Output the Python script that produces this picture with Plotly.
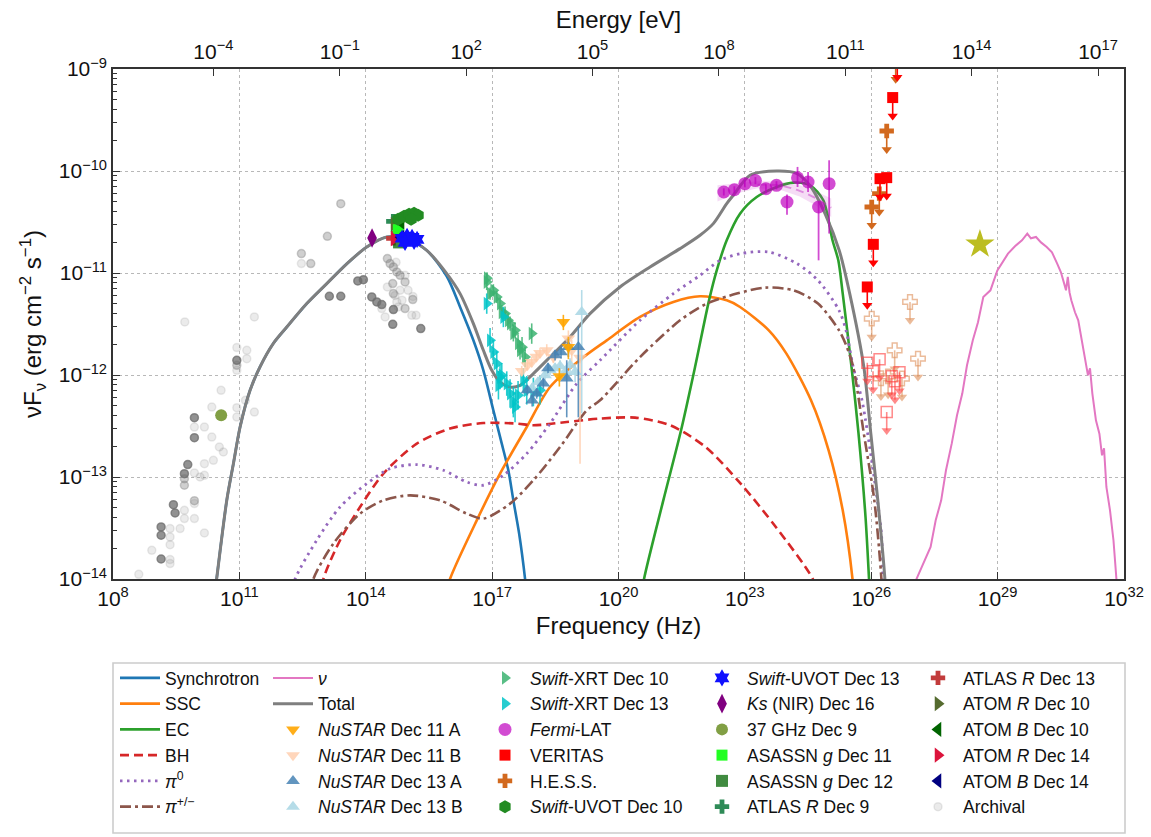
import numpy as np
import plotly.graph_objects as go

# ------------------------------------------------------------------
# DATA (log10 frequency [Hz], log10 nuFnu [erg cm^-2 s^-1])
# ------------------------------------------------------------------
LOG_H_EV_S = np.log10(4.135667696e-15)   # Planck constant in eV s

X_TICK_EXP = [8, 11, 14, 17, 20, 23, 26, 29, 32]
E_TICK_EXP = [-4, -1, 2, 5, 8, 11, 14, 17]
Y_TICK_EXP = [-14, -13, -12, -11, -10, -9]

# ---- model curves ----
SYNC_LOGNU = [10.40, 10.46, 10.70, 10.858, 11.017, 11.254, 11.49, 11.807, 12.125, 12.60,
              13.075, 13.55, 14.024, 14.50, 14.974, 15.448, 15.923, 16.239, 16.555, 16.792,
              17.029, 17.229, 17.385, 17.504, 17.64, 17.782, 17.83]
SYNC_LOGF = [-14.2, -14.0, -13.23, -12.87, -12.51, -12.15, -11.92, -11.69, -11.53, -11.30,
             -11.104, -10.91, -10.745, -10.647, -10.663, -10.778, -11.032, -11.333, -11.66, -11.954,
             -12.346, -12.673, -12.934, -13.229, -13.552, -14.0, -14.21]

SSC_LOGNU = [15.88, 16.0, 16.635, 17.188, 17.822, 18.375, 19.166, 19.721, 20.511, 21.302,
             21.936, 22.569, 22.885, 23.568, 23.986, 24.57, 24.988, 25.323, 25.555, 25.59]
SSC_LOGF = [-14.2, -14.0, -13.425, -12.967, -12.51, -12.118, -11.826, -11.66, -11.431, -11.284,
            -11.228, -11.268, -11.333, -11.562, -11.79, -12.248, -12.738, -13.326, -14.0, -14.2]

EC_LOGNU = [20.535, 20.606, 21.064, 21.485, 21.817, 22.149, 22.332, 22.569, 22.885, 23.281,
            23.756, 24.15, 24.547, 24.862, 25.08, 25.218, 25.323, 25.532, 25.698, 25.864,
            25.947, 25.97]
EC_LOGF = [-14.2, -14.0, -13.229, -12.542, -11.922, -11.268, -10.974, -10.679, -10.418, -10.255,
           -10.157, -10.114, -10.14, -10.287, -10.679, -10.876, -11.202, -11.922, -12.575, -13.392,
           -14.0, -14.2]

BH_LOGNU = [12.916, 12.994, 13.39, 13.865, 14.418, 15.211, 16.0, 16.792, 17.585, 17.979,
            18.771, 19.562, 20.393, 21.23, 22.066, 22.90, 23.735, 24.613, 24.78]
BH_LOGF = [-14.21, -14.0, -13.62, -13.294, -12.967, -12.673, -12.525, -12.471, -12.476, -12.493,
           -12.461, -12.427, -12.418, -12.493, -12.706, -13.065, -13.49, -14.0, -14.21]

PI0_LOGNU = [12.204, 12.322, 12.837, 13.39, 14.024, 14.577, 15.211, 15.842, 16.398, 16.792,
             17.267, 17.822, 18.375, 19.009, 19.562, 20.511, 21.302, 21.936, 22.411, 22.90,
             23.568, 24.238, 24.736, 25.235, 25.401, 25.572, 25.781, 26.032, 26.241, 26.279, 26.29]
PI0_LOGF = [-14.21, -14.0, -13.62, -13.294, -13.065, -12.918, -12.878, -12.934, -13.049, -13.081,
            -12.983, -12.771, -12.476, -12.084, -11.856, -11.464, -11.202, -11.023, -10.876, -10.81,
            -10.794, -10.908, -11.072, -11.366, -11.562, -11.922, -12.248, -12.902, -13.555, -14.0, -14.2]

PIPM_LOGNU = [12.678, 12.757, 13.231, 13.865, 14.418, 15.052, 15.764, 16.398, 16.792, 17.426,
              17.979, 18.613, 19.246, 19.562, 20.511, 21.461, 22.094, 22.806, 23.485, 24.152,
              24.736, 25.235, 25.405, 25.572, 25.824, 26.073, 26.241, 26.255]
PIPM_LOGF = [-14.21, -14.0, -13.653, -13.359, -13.229, -13.18, -13.229, -13.359, -13.408, -13.261,
             -13.032, -12.706, -12.346, -12.248, -11.824, -11.464, -11.30, -11.202, -11.143, -11.17,
             -11.30, -11.562, -11.709, -11.922, -12.575, -13.229, -14.0, -14.2]

NU_LOGNU = [27.04, 27.074, 27.409, 27.53, 27.66, 27.774, 27.91, 28.036, 28.161, 28.273,
            28.411, 28.534, 28.66, 28.829, 28.994, 29.246, 29.412, 29.578, 29.704, 29.79,
            29.911, 30.03, 30.165, 30.29, 30.414, 30.503, 30.58, 30.623, 30.666, 30.707,
            30.749, 30.836, 30.914, 30.998, 31.074, 31.145, 31.193, 31.249, 31.334, 31.416,
            31.478, 31.526, 31.582, 31.668, 31.75, 31.833, 31.857]
NU_LOGF = [-14.2, -14.0, -13.686, -13.425, -13.229, -12.934, -12.673, -12.395, -12.182, -11.905,
           -11.66, -11.483, -11.235, -11.17, -10.974, -10.81, -10.738, -10.679, -10.614, -10.66,
           -10.647, -10.70, -10.745, -10.797, -10.908, -10.993, -11.104, -11.17, -11.039, -11.19,
           -11.268, -11.385, -11.464, -11.66, -11.807, -12.003, -11.934, -12.182, -12.444, -12.575,
           -12.787, -12.718, -13.098, -13.327, -13.62, -14.0, -14.2]

TOTAL_LOGNU = [10.40, 10.46, 10.70, 10.858, 11.017, 11.254, 11.49, 11.807, 12.125, 12.60,
               13.075, 13.55, 14.024, 14.50, 14.974, 15.448, 15.923, 16.239, 16.555, 16.792,
               16.991, 17.188, 17.426, 17.663, 17.979, 18.375, 18.85, 19.324, 20.036, 20.749,
               21.461, 21.936, 22.251, 22.569, 22.726, 23.122, 23.756, 24.238, 24.57, 24.903,
               25.24, 25.489, 25.824, 25.99, 26.156, 26.324, 26.35]
TOTAL_LOGF = [-14.2, -14.0, -13.23, -12.87, -12.51, -12.15, -11.92, -11.69, -11.53, -11.30,
              -11.104, -10.91, -10.745, -10.647, -10.663, -10.778, -11.006, -11.202, -11.496, -11.758,
              -11.954, -12.069, -12.118, -12.101, -11.986, -11.824, -11.627, -11.398, -11.137, -10.941,
              -10.761, -10.63, -10.516, -10.32, -10.238, -10.042, -10.0, -10.025, -10.157, -10.418,
              -10.778, -11.202, -11.922, -12.575, -13.229, -14.0, -14.2]

# ---- X-ray ----
NUSTAR11A_LOGNU = [18.596, 18.691, 18.81]
NUSTAR11A_LOGF = [-12.013, -11.48, -11.725]
NUSTAR11A_EHI = [0.08, 0.07, 0.1]
NUSTAR11A_ELO = [0.1, 0.08, 0.12]

NUSTAR11B_LOGNU = [17.703, 17.836, 17.94, 18.05, 18.137, 18.297, 18.453, 18.81, 18.89, 19.087]
NUSTAR11B_LOGF = [-11.961, -11.905, -11.873, -11.82, -11.784, -11.758, -11.824, -11.643, -11.758, -11.83]
NUSTAR11B_EHI = [0.05, 0.05, 0.05, 0.05, 0.05, 0.06, 0.06, 0.08, 0.1, 0.11]
NUSTAR11B_ELO = [0.05, 0.05, 0.05, 0.05, 0.05, 0.06, 0.06, 0.08, 0.12, 1.04]

NUSTAR13A_LOGNU = [17.836, 17.95, 18.059, 18.216, 18.327, 18.494, 18.636, 18.771, 18.81, 19.046]
NUSTAR13A_LOGF = [-12.15, -12.25, -12.182, -12.084, -11.934, -11.807, -11.778, -12.035, -11.725, -11.725]
NUSTAR13A_EHI = [0.05, 0.05, 0.05, 0.05, 0.05, 0.05, 0.05, 0.18, 0.08, 0.2]
NUSTAR13A_ELO = [0.05, 0.06, 0.05, 0.05, 0.05, 0.05, 0.06, 0.38, 0.1, 0.69]

NUSTAR13B_LOGNU = [17.95, 18.09, 18.256, 18.375, 18.494, 18.613, 18.73, 18.85, 18.97, 19.127]
NUSTAR13B_LOGF = [-12.13, -12.072, -12.003, -11.954, -11.934, -11.915, -11.974, -11.905, -11.97, -11.382]
NUSTAR13B_EHI = [0.05, 0.05, 0.05, 0.05, 0.05, 0.06, 0.06, 0.07, 0.08, 0.215]
NUSTAR13B_ELO = [0.05, 0.05, 0.05, 0.05, 0.05, 0.06, 0.06, 0.07, 0.1, 0.994]

XRT10_LOGNU = [16.872, 16.878, 16.951, 17.029, 17.11, 17.188, 17.229, 17.307, 17.378, 17.426,
               17.504, 17.544, 17.616, 17.663, 17.71, 17.782, 17.94]
XRT10_LOGF = [-11.088, -11.052, -11.202, -11.17, -11.235, -11.30, -11.385, -11.398, -11.464, -11.496,
              -11.591, -11.562, -11.69, -11.758, -11.728, -11.824, -11.594]
XRT10_ERR = [0.08, 0.06, 0.06, 0.06, 0.06, 0.06, 0.07, 0.07, 0.07, 0.07, 0.08, 0.08, 0.09, 0.09, 0.1, 0.1, 0.1]

XRT13_LOGNU = [16.872, 16.951, 17.029, 17.11, 17.15, 17.188, 17.229, 17.267, 17.347, 17.426,
               17.504, 17.544, 17.616, 17.741, 17.822, 17.979, 18.137]
XRT13_LOGF = [-11.30, -11.66, -11.775, -11.888, -12.10, -12.02, -12.003, -11.431, -12.084, -12.182,
              -12.265, -12.314, -12.199, -12.052, -12.15, -12.167, -12.15]
XRT13_ERR = [0.1, 0.12, 0.12, 0.12, 0.14, 0.12, 0.12, 0.1, 0.12, 0.14, 0.15, 0.15, 0.14, 0.12, 0.14, 0.14, 0.14]

# ---- gamma rays ----
FERMI_LOGNU = [22.5, 22.75, 23.0, 23.25, 23.5, 23.75, 24.0, 24.25, 24.5, 24.75, 25.0]
FERMI_LOGF = [-10.206, -10.184, -10.124, -10.094, -10.173, -10.14, -10.304, -10.067, -10.108, -10.353, -10.124]
FERMI_LOGF_HI = [-10.17, -10.15, -10.09, -10.06, -10.13, -10.10, -10.23, -9.96, -10.01, -10.30, -9.895]
FERMI_LOGF_LO = [-10.24, -10.22, -10.16, -10.13, -10.22, -10.18, -10.43, -10.157, -10.206, -10.876, -10.613]

FERMI_BAND_LOGNU = [22.35, 22.8, 23.3, 23.8, 24.3, 24.7, 25.05]
FERMI_BAND_HI = [-10.14, -10.12, -10.10, -10.10, -10.14, -10.20, -10.27]
FERMI_BAND_LO = [-10.30, -10.22, -10.17, -10.18, -10.25, -10.34, -10.45]

VERITAS_LOGNU = [26.618, 26.509, 26.208, 26.367, 26.049, 25.906]
VERITAS_LOGF = [-8.9, -9.28, -10.075, -10.065, -10.719, -11.137]
VERITAS2_LOGNU = [25.906, 26.198, 26.042, 26.488, 26.67, 26.367, 26.563]
VERITAS2_LOGF = [-11.88, -11.846, -11.964, -12.013, -11.974, -12.363, -12.062]

HESS_LOGNU = [26.58, 26.367, 26.191, 26.011]
HESS_LOGF = [-8.92, -9.608, -10.222, -10.353]
HESS2_LOGNU = [26.011, 26.92, 26.556, 27.11, 26.23, 26.73, 26.4]
HESS2_LOGF = [-11.447, -11.284, -11.758, -11.839, -12.032, -12.035, -12.013]

STAR_LOGNU = [28.58]
STAR_LOGF = [-10.719]

# ---- UV / optical / IR / radio ----
UVOT10_LOGNU = [14.767, 14.91, 15.028, 15.147, 15.242, 15.076]
UVOT10_LOGF = [-10.474, -10.444, -10.425, -10.415, -10.434, -10.474]
UVOT13_LOGNU = [14.862, 14.981, 15.099, 15.218, 14.933, 15.147]
UVOT13_LOGF = [-10.66, -10.641, -10.65, -10.67, -10.70, -10.69]
KS_LOGNU, KS_LOGF = [14.15], [-10.657]
GHZ37_LOGNU, GHZ37_LOGF = [10.568], [-12.395]
ASASSN11_LOGNU, ASASSN11_LOGF = [14.774], [-10.575]
ASASSN12_LOGNU, ASASSN12_LOGF = [14.79], [-10.70]
ATLAS9_LOGNU, ATLAS9_LOGF = [14.655], [-10.493]
ATLAS13_LOGNU, ATLAS13_LOGF = [14.655], [-10.66]
ATOMR10_LOGNU, ATOMR10_LOGF = [14.672], [-10.524]
ATOMB10_LOGNU, ATOMB10_LOGF = [14.838], [-10.503]
ATOMR14_LOGNU, ATOMR14_LOGF = [14.672], [-10.665]
ATOMB14_LOGNU, ATOMB14_LOGF = [14.838], [-10.65]

# ---- archival (three shades) ----
ARCH_DARK_LOGNU = [13.811, 13.944, 13.136, 13.407, 14.143, 14.262, 14.38, 14.656, 14.641, 15.306,
                   10.939, 9.932, 9.932, 9.775, 9.695, 9.434, 9.474, 9.142, 9.142, 9.142]
ARCH_DARK_LOGF = [-11.078, -11.065, -11.228, -11.228, -11.235, -11.284, -11.31, -11.359, -11.503, -11.545,
                  -11.856, -12.418, -12.614, -12.878, -12.967, -13.271, -13.353, -13.49, -13.571, -13.804]
ARCH_MID_LOGNU = [14.513, 14.577, 14.656, 14.736, 14.815, 14.933, 14.641, 14.656, 14.933, 15.116,
                  12.472, 12.695, 13.089, 13.407, 10.939, 9.695, 9.695, 9.932]
ARCH_MID_LOGF = [-10.859, -10.908, -10.941, -10.99, -11.023, -11.088, -11.104, -11.202, -11.349, -11.26,
                 -10.81, -10.908, -10.64, -10.32, -11.905, -13.016, -13.081, -13.232]
ARCH_LIGHT_LOGNU = [12.472, 11.356, 9.704, 11.356, 10.939, 10.939, 10.566, 10.345, 10.939, 10.939,
                    11.143, 9.932, 10.17, 10.345, 10.525, 10.62, 10.383, 9.932, 10.067, 10.17,
                    10.17, 9.932, 9.695, 9.695, 9.593, 9.355, 9.355, 9.355, 9.355, 9.355,
                    8.921, 8.612, 10.17, 9.932, 14.513, 14.38, 14.46, 14.736, 14.774, 14.933,
                    15.092, 15.194, 14.815, 14.695, 14.72, 14.862, 15.005, 15.12, 11.176, 11.176]
ARCH_LIGHT_LOGF = [-10.908, -11.431, -11.48, -12.363, -11.731, -11.954, -12.15, -12.314, -12.32, -12.412,
                   -12.248, -12.511, -12.511, -12.608, -12.706, -12.755, -12.836, -12.96, -13.0, -12.983,
                   -12.869, -13.261, -13.327, -13.408, -13.506, -13.506, -13.588, -13.663, -13.81, -13.849,
                   -13.719, -13.954, -13.549, -13.408, -11.137, -11.349, -11.431, -11.284, -11.333, -11.023,
                   -11.415, -11.415, -11.17, -11.22, -10.895, -11.267, -11.17, -11.23, -11.758, -11.84]

# ------------------------------------------------------------------
FONT = "Liberation Sans, Arial, Helvetica, sans-serif"
ARROW_DEX = 0.18
fig = go.Figure()


def P(v):
    return np.power(10.0, np.asarray(v, dtype=float))


def add_model(lognu, logf, name, color, width, dash, legend, rank, smooth=True):
    fig.add_trace(go.Scatter(
        x=P(lognu), y=P(logf), mode="lines", name=name,
        line=dict(color=color, width=width, dash=dash,
                  shape="spline" if smooth else "linear", smoothing=0.8),
        legend=legend, legendrank=rank, hoverinfo="skip"))


def add_points(lognu, logf, name, color, symbol, size, legend, rank,
               ehi=None, elo=None, showlegend=True, lw=0):
    x, y = P(lognu), P(logf)
    ey = None
    if ehi is not None:
        hi = np.asarray(ehi, float)
        lo = hi if elo is None else np.asarray(elo, float)
        ey = dict(type="data", symmetric=False, array=y * (10 ** hi - 1),
                  arrayminus=y * (1 - 10 ** (-lo)), color=color, thickness=1.6, width=0)
    fig.add_trace(go.Scatter(
        x=x, y=y, mode="markers", name=name,
        marker=dict(symbol=symbol, size=size, color=color, line=dict(width=lw, color=color)),
        error_y=ey, legend=legend, legendrank=rank, showlegend=showlegend, hoverinfo="skip"))


def add_ul(lognu, logf, name, color, symbol, size, legend, rank, showlegend=True, lw=0):
    x, y = P(lognu), P(logf)
    tip = y * 10 ** (-ARROW_DEX)
    fig.add_trace(go.Scatter(
        x=x, y=y, mode="markers", name=name,
        marker=dict(symbol=symbol, size=size, color=color, line=dict(width=lw, color=color)),
        error_y=dict(type="data", symmetric=False, array=np.zeros(len(y)),
                     arrayminus=y - tip, color=color, thickness=1.6, width=0),
        legend=legend, legendrank=rank, showlegend=showlegend, hoverinfo="skip"))
    fig.add_trace(go.Scatter(
        x=x, y=tip, mode="markers", showlegend=False, hoverinfo="skip",
        marker=dict(symbol="triangle-down", size=9, color=color, line=dict(width=0))))


# ---- models ----
add_model(SYNC_LOGNU, SYNC_LOGF, "Synchrotron", "#1f77b4", 2.6, "solid", "legend", 1)
add_model(SSC_LOGNU, SSC_LOGF, "SSC", "#ff7f0e", 2.6, "solid", "legend", 2)
add_model(EC_LOGNU, EC_LOGF, "EC", "#2ca02c", 2.6, "solid", "legend", 3)
add_model(BH_LOGNU, BH_LOGF, "BH", "#d62728", 2.6, "9px,5px", "legend", 4)
add_model(PI0_LOGNU, PI0_LOGF, "<i>π</i><sup>0</sup>", "#9467bd", 2.8, "2.5px,4.5px", "legend", 5)
add_model(PIPM_LOGNU, PIPM_LOGF, "<i>π</i><sup>+/−</sup>", "#8c564b", 2.6,
          "11px,4px,3px,4px", "legend", 6)
add_model(NU_LOGNU, NU_LOGF, "<i>ν</i>", "#e377c2", 2.0, "solid", "legend2", 1, smooth=False)

# Fermi butterfly
fig.add_trace(go.Scatter(
    x=np.concatenate([P(FERMI_BAND_LOGNU), P(FERMI_BAND_LOGNU)[::-1]]),
    y=np.concatenate([P(FERMI_BAND_HI), P(FERMI_BAND_LO)[::-1]]),
    mode="lines", fill="toself", fillcolor="rgba(200,60,200,0.18)",
    line=dict(width=0), showlegend=False, hoverinfo="skip"))
fig.add_trace(go.Scatter(
    x=P(FERMI_BAND_LOGNU[2:]),
    y=P((np.asarray(FERMI_BAND_HI[2:]) + np.asarray(FERMI_BAND_LO[2:])) / 2),
    mode="lines", line=dict(color="rgba(200,60,200,0.5)", width=2, dash="8px,5px", shape="spline"),
    showlegend=False, hoverinfo="skip"))

add_model(TOTAL_LOGNU, TOTAL_LOGF, "Total", "#7f7f7f", 3.0, "solid", "legend2", 2)

# ---- archival ----
add_points(ARCH_LIGHT_LOGNU, ARCH_LIGHT_LOGF, "Archival", "rgba(128,128,128,0.16)", "circle", 8,
           "legend5", 6, lw=1.5)
add_points(ARCH_MID_LOGNU, ARCH_MID_LOGF, "Archival", "rgba(128,128,128,0.38)", "circle", 8,
           "legend5", 7, showlegend=False, lw=1.5)
add_points(ARCH_DARK_LOGNU, ARCH_DARK_LOGF, "Archival", "rgba(110,110,110,0.75)", "circle", 8,
           "legend5", 8, showlegend=False, lw=1.5)

# ---- X-ray ----
add_points(XRT10_LOGNU, XRT10_LOGF, "<i>Swift</i>-XRT Dec 10", "rgba(60,179,113,0.85)",
           "triangle-right", 12, "legend3", 1, XRT10_ERR)
add_points(XRT13_LOGNU, XRT13_LOGF, "<i>Swift</i>-XRT Dec 13", "rgba(0,196,200,0.85)",
           "triangle-right", 12, "legend3", 2, XRT13_ERR)
add_points(NUSTAR11B_LOGNU, NUSTAR11B_LOGF, "<i>NuSTAR</i> Dec 11 B", "rgba(255,204,170,0.8)",
           "triangle-down", 12, "legend2", 4, NUSTAR11B_EHI, NUSTAR11B_ELO)
add_points(NUSTAR13B_LOGNU, NUSTAR13B_LOGF, "<i>NuSTAR</i> Dec 13 B", "rgba(173,216,230,0.9)",
           "triangle-up", 12, "legend2", 6, NUSTAR13B_EHI, NUSTAR13B_ELO)
add_points(NUSTAR13A_LOGNU, NUSTAR13A_LOGF, "<i>NuSTAR</i> Dec 13 A", "rgba(70,130,180,0.85)",
           "triangle-up", 12, "legend2", 5, NUSTAR13A_EHI, NUSTAR13A_ELO)
add_points(NUSTAR11A_LOGNU, NUSTAR11A_LOGF, "<i>NuSTAR</i> Dec 11 A", "rgba(255,165,0,0.9)",
           "triangle-down", 12, "legend2", 3, NUSTAR11A_EHI, NUSTAR11A_ELO)

# ---- gamma rays ----
fermi_y = P(FERMI_LOGF)
fig.add_trace(go.Scatter(
    x=P(FERMI_LOGNU), y=fermi_y, mode="markers", name="<i>Fermi</i>-LAT",
    marker=dict(symbol="circle", size=13, color="rgba(191,0,191,0.7)"),
    error_y=dict(type="data", symmetric=False, array=P(FERMI_LOGF_HI) - fermi_y,
                 arrayminus=fermi_y - P(FERMI_LOGF_LO), color="rgba(191,0,191,0.7)",
                 thickness=1.8, width=0),
    legend="legend3", legendrank=3, hoverinfo="skip"))

add_ul(HESS2_LOGNU, HESS2_LOGF, "H.E.S.S.", "rgba(225,150,100,0.65)", "cross-open", 12,
       "legend3", 9, showlegend=False, lw=1.5)
add_ul(VERITAS2_LOGNU, VERITAS2_LOGF, "VERITAS", "rgba(255,60,60,0.6)", "square-open", 11,
       "legend3", 8, showlegend=False, lw=1.5)
add_ul(HESS_LOGNU, HESS_LOGF, "H.E.S.S.", "#d2691e", "cross", 12, "legend3", 5)
add_ul(VERITAS_LOGNU, VERITAS_LOGF, "VERITAS", "#ff0000", "square", 11, "legend3", 4)

fig.add_trace(go.Scatter(x=P(STAR_LOGNU), y=P(STAR_LOGF), mode="markers", showlegend=False,
                         marker=dict(symbol="star", size=22, color="#bcbd22"), hoverinfo="skip"))

# ---- UV / optical / IR / radio ----
add_points(GHZ37_LOGNU, GHZ37_LOGF, "37 GHz Dec 9", "rgba(107,142,35,0.85)", "circle", 12,
           "legend4", 3)
add_points(KS_LOGNU, KS_LOGF, "<i>Ks</i> (NIR) Dec 16", "#800080", "diamond-tall", 14, "legend4", 2)
add_points(ATLAS9_LOGNU, ATLAS9_LOGF, "ATLAS <i>R</i> Dec 9", "#2e8b57", "cross", 12, "legend4", 6)
add_points(ATLAS13_LOGNU, ATLAS13_LOGF, "ATLAS <i>R</i> Dec 13", "#c23b3b", "cross", 12, "legend5", 1)
add_points(ATOMR10_LOGNU, ATOMR10_LOGF, "ATOM <i>R</i> Dec 10", "#556b2f", "triangle-right", 13,
           "legend5", 2)
add_points(ASASSN12_LOGNU, ASASSN12_LOGF, "ASASSN <i>g</i> Dec 12", "rgba(0,100,0,0.75)", "square", 12,
           "legend4", 5)
add_points(ASASSN11_LOGNU, ASASSN11_LOGF, "ASASSN <i>g</i> Dec 11", "#22ff22", "square", 11,
           "legend4", 4)
add_points(ATOMB10_LOGNU, ATOMB10_LOGF, "ATOM <i>B</i> Dec 10", "#006400", "triangle-left", 13,
           "legend5", 3)
add_points(ATOMR14_LOGNU, ATOMR14_LOGF, "ATOM <i>R</i> Dec 14", "#dc143c", "triangle-right", 13,
           "legend5", 4)
add_points(ATOMB14_LOGNU, ATOMB14_LOGF, "ATOM <i>B</i> Dec 14", "#000080", "triangle-left", 13,
           "legend5", 5)
add_points(UVOT10_LOGNU, UVOT10_LOGF, "<i>Swift</i>-UVOT Dec 10", "#228b22", "hexagon", 13,
           "legend3", 6)
add_points(UVOT13_LOGNU, UVOT13_LOGF, "<i>Swift</i>-UVOT Dec 13", "#1010ff", "hexagram", 13,
           "legend4", 1)

# energy axis carrier (no visible marks)
fig.add_trace(go.Scatter(x=[None], y=[None], xaxis="x2", yaxis="y", showlegend=False,
                         mode="markers", hoverinfo="skip"))

# ------------------------------------------------------------------
AX_COL = "#333333"
GRID = dict(showgrid=True, gridcolor="#b8b8b8", griddash="dot", gridwidth=1)
TICKFONT = dict(family=FONT, size=21, color="#111111")

fig.update_layout(
    width=1151, height=837,
    margin=dict(l=113, r=27, t=69, b=258, autoexpand=False),
    paper_bgcolor="white", plot_bgcolor="white",
    font=dict(family=FONT, size=17.5, color="#111111"),
    xaxis=dict(type="log", range=[8, 32],
               tickvals=[10.0 ** e for e in X_TICK_EXP],
               ticktext=[f"10<sup>{e}</sup>" for e in X_TICK_EXP],
               ticks="inside", ticklen=7, tickwidth=1.2, tickcolor=AX_COL,
               showline=True, linecolor=AX_COL, linewidth=1.5, mirror=False, zeroline=False,
               tickfont=TICKFONT, **GRID,
               title=dict(text="Frequency (Hz)", font=dict(family=FONT, size=24), standoff=8)),
    xaxis2=dict(type="log", range=[8 + LOG_H_EV_S, 32 + LOG_H_EV_S], overlaying="x",
                side="top", anchor="y",
                tickvals=[10.0 ** e for e in E_TICK_EXP],
                ticktext=[f"10<sup>{e}</sup>".replace("-", "−") for e in E_TICK_EXP],
                ticks="inside", ticklen=7, tickwidth=1.2, tickcolor=AX_COL,
                showline=True, linecolor=AX_COL, linewidth=1.5, showgrid=False, zeroline=False,
                tickfont=TICKFONT,
                title=dict(text="Energy [eV]", font=dict(family=FONT, size=24), standoff=2)),
    yaxis=dict(type="log", range=[-14, -9],
               tickvals=[10.0 ** e for e in Y_TICK_EXP],
               ticktext=[f"10<sup>−{-e}</sup>" for e in Y_TICK_EXP],
               ticks="inside", ticklen=7, tickwidth=1.2, tickcolor=AX_COL,
               showline=True, linecolor=AX_COL, linewidth=1.5, mirror=True, zeroline=False,
               tickfont=TICKFONT, **GRID,
               minor=dict(ticks="inside", ticklen=4, tickwidth=1, tickcolor=AX_COL, showgrid=False,
                          tickvals=[k * 10.0 ** e for e in Y_TICK_EXP[:-1] for k in range(2, 10)]),
               title=dict(text="νF<sub>ν</sub> (erg cm<sup>−2</sup> s<sup>−1</sup>)",
                          font=dict(family=FONT, size=24), standoff=10)),
)

LEG_PX = [115, 268, 480, 697, 913]
LEG_TOP = 660
leg_common = dict(xanchor="left", yanchor="top", orientation="v", bgcolor="rgba(0,0,0,0)",
                  borderwidth=0, itemwidth=40, tracegroupgap=0, traceorder="normal",
                  font=dict(family=FONT, size=17.5, color="#111111"), itemclick=False)
for i, px in enumerate(LEG_PX):
    key = "legend" if i == 0 else f"legend{i + 1}"
    fig.update_layout({key: dict(x=(px - 113) / 1011, y=(579 - LEG_TOP) / 510, **leg_common)})

# legend frame
fig.add_shape(type="rect", xref="paper", yref="paper",
              x0=0.0, x1=(1125 - 113) / 1011, y0=(579 - 833) / 510, y1=(579 - 663) / 510,
              line=dict(color="#cccccc", width=1.6), fillcolor="rgba(255,255,255,0)", layer="below")

fig.write_html("out.html", include_plotlyjs=True,
               config={"responsive": False, "displayModeBar": False},
               post_script="document.body.style.margin='0px';")
